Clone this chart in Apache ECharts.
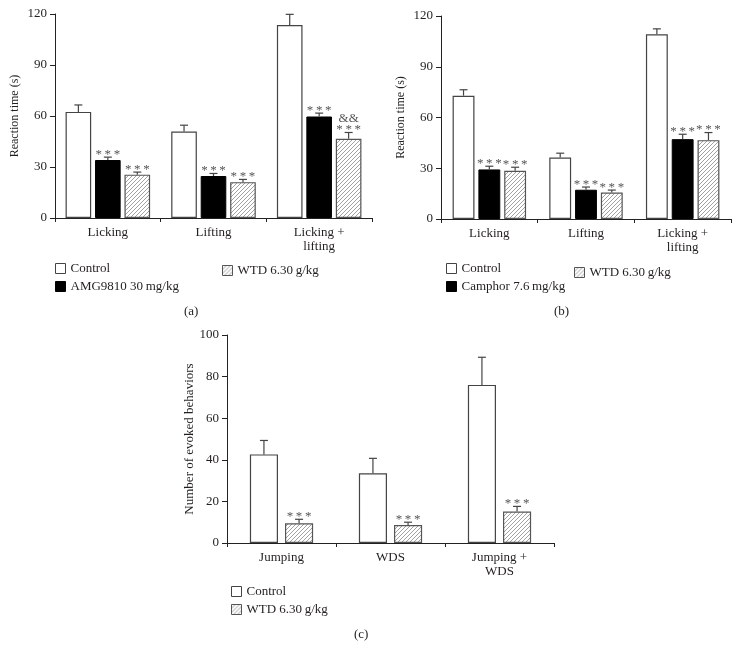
<!DOCTYPE html>
<html>
<head>
<meta charset="utf-8">
<script src="https://cdn.jsdelivr.net/npm/echarts@6/dist/echarts.min.js"></script>
<style>html,body{margin:0;padding:0;background:#fff}#c{width:738px;height:648px}</style>
</head>
<body>
<div id="c"></div>
<script>
// ---- data ----
const catsAB = ['Licking', 'Lifting', 'Licking +\nlifting'];
const catsC = ['Jumping', 'WDS', 'Jumping +\nWDS'];
const yTicksAB = [0, 30, 60, 90, 120];
const yTicksC = [0, 20, 40, 60, 80, 100];

// panel (a)
const ctrlA = [62.4, 50.9, 113.5];
const ctrlAErr = [4.1, 3.7, 6.3];
const amgA = [34.1, 24.7, 59.7];
const amgAErr = [1.7, 1.5, 2.0];
const wtdA = [25.5, 21.1, 46.6];
const wtdAErr = [1.5, 1.6, 3.7];
const sigAmgA = ['***', '***', '***'];
const sigWtdA = ['***', '***', '&&\n***'];

// panel (b)
const ctrlB = [72.9, 36.3, 109.2];
const ctrlBErr = [3.5, 2.6, 3.2];
const camB = [29.3, 17.3, 47.2];
const camBErr = [1.9, 1.6, 2.9];
const wtdB = [28.5, 15.7, 46.6];
const wtdBErr = [2.1, 1.4, 4.5];
const sigCamB = ['***', '***', '***'];
const sigWtdB = ['***', '***', '***'];

// panel (c)
const ctrlC = [42.6, 33.5, 76.0];
const ctrlCErr = [6.7, 7.2, 13.3];
const wtdC = [9.5, 8.6, 15.1];
const wtdCErr = [1.9, 1.4, 2.5];
const sigWtdC = ['***', '***', '***'];

const nameCtrl = 'Control';
const nameAmg = 'AMG9810 30\u2009mg/kg';
const nameCam = 'Camphor 7.6\u2009mg/kg';
const nameWtd = 'WTD 6.30\u2009g/kg';

// ---- styles ----
const FONT = 'Liberation Serif';
const TXT = '#231f20';

function hatchPattern() {
  const s = 4;
  const c = document.createElement('canvas');
  c.width = s; c.height = s;
  const ctx = c.getContext('2d');
  ctx.fillStyle = '#fff';
  ctx.fillRect(0, 0, s, s);
  ctx.strokeStyle = '#8a8a8a';
  ctx.lineWidth = 0.8;
  ctx.beginPath();
  ctx.moveTo(-1, s + 1); ctx.lineTo(s + 1, -1);
  ctx.moveTo(-1, 1); ctx.lineTo(1, -1);
  ctx.moveTo(s - 1, s + 1); ctx.lineTo(s + 1, s - 1);
  ctx.stroke();
  return c;
}
const hatch = {image: hatchPattern(), repeat: 'repeat'};

const styleCtrl = {color: '#fff', borderColor: '#444', borderWidth: 1.2};
const styleBlack = {color: '#000', borderColor: '#000', borderWidth: 1};
const styleWtd = {color: hatch, borderColor: '#555', borderWidth: 1.2};

function toErrData(means, errs) {
  return means.map((m, i) => [i, m, m + errs[i]]);
}

function spaced(t) {
  return t.split('\n').map(line => line === '***' ? '*\u2009*\u2009*' : line).join('\n');
}

function errSeries(axisIdx, means, errs, n, idx, cg, g, sig) {
  return {
    type: 'custom',
    xAxisIndex: axisIdx, yAxisIndex: axisIdx,
    encode: {x: 0, y: [1, 2]},
    data: toErrData(means, errs),
    silent: true,
    z: 3,
    renderItem: function (params, api) {
      const cat = api.value(0), mean = api.value(1), top = api.value(2);
      const band = api.size([1, 0])[0];
      const groupW = band * (1 - cg);
      const barW = groupW / (n + (n - 1) * g);
      const off = -groupW / 2 + idx * barW * (1 + g) + barW / 2;
      const p0 = api.coord([cat, mean]);
      const p1 = api.coord([cat, top]);
      const x = p0[0] + off;
      const ls = {stroke: '#444', lineWidth: 1.2};
      const children = [
        {type: 'line', shape: {x1: x, y1: p0[1], x2: x, y2: p1[1]}, style: ls},
        {type: 'line', shape: {x1: x - 4, y1: p1[1], x2: x + 4, y2: p1[1]}, style: ls}
      ];
      const t = sig ? sig[params.dataIndex] : null;
      if (t) {
        children.push({
          type: 'text',
          style: {
            text: spaced(t), x: x, y: p1[1] + 3,
            align: 'center', verticalAlign: 'bottom',
            fontFamily: FONT, fontSize: 13, lineHeight: 11,
            fill: '#555'
          }
        });
      }
      return {type: 'group', children: children};
    }
  };
}

function barSeries(axisIdx, name, data, style, cg, g) {
  return {
    type: 'bar', name: name, xAxisIndex: axisIdx, yAxisIndex: axisIdx,
    data: data, itemStyle: style,
    barCategoryGap: (cg * 100) + '%', barGap: (g * 100) + '%',
    silent: true, z: 2
  };
}

function xAxisDef(idx, cats) {
  return {
    type: 'category', gridIndex: idx, data: cats, boundaryGap: true,
    axisLine: {lineStyle: {color: '#222', width: 1}},
    axisTick: {show: true, length: 4, alignWithLabel: false, interval: 0, lineStyle: {color: '#222'}},
    axisLabel: {interval: 0, margin: 8, fontFamily: FONT, fontSize: 13, lineHeight: 14, color: TXT}
  };
}
function yAxisDef(idx, ticks, name, nameGap, nameSize) {
  return {
    type: 'value', gridIndex: idx,
    min: ticks[0], max: ticks[ticks.length - 1], interval: ticks[1] - ticks[0],
    name: name, nameLocation: 'middle', nameGap: nameGap,
    nameTextStyle: {fontFamily: FONT, fontSize: nameSize, color: TXT},
    axisLine: {show: true, lineStyle: {color: '#222', width: 1}},
    axisTick: {show: true, length: 5, lineStyle: {color: '#222'}},
    axisLabel: {margin: 8, fontFamily: FONT, fontSize: 13, color: TXT},
    splitLine: {show: false}
  };
}

const legendText = {fontFamily: FONT, fontSize: 13, color: TXT};
function legendDef(left, top, names) {
  return {
    left: left, top: top, orient: 'vertical', data: names,
    icon: 'rect', itemWidth: 10, itemHeight: 10, itemGap: 5,
    itemStyle: {borderWidth: 1},
    textStyle: legendText, selectedMode: false, padding: 0
  };
}

const cgA = 0.20, gA = 0.15;
const cgB = 0.24, gB = 0.18;
const cgC = 0.42, gC = 0.25;

const option = {
  animation: false,
  backgroundColor: '#fff',
  title: [
    {text: '(a)', left: 184, top: 305, padding: 0, textStyle: {fontFamily: FONT, fontSize: 13, fontWeight: 'normal', color: TXT}},
    {text: '(b)', left: 554, top: 305, padding: 0, textStyle: {fontFamily: FONT, fontSize: 13, fontWeight: 'normal', color: TXT}},
    {text: '(c)', left: 354, top: 628, padding: 0, textStyle: {fontFamily: FONT, fontSize: 13, fontWeight: 'normal', color: TXT}}
  ],
  legend: [
    legendDef(55, 262, [nameCtrl, nameAmg]),
    legendDef(222, 264, [nameWtd]),
    legendDef(446, 262, [nameCtrl, nameCam]),
    legendDef(574, 266, [nameWtd]),
    legendDef(231, 585, [nameCtrl, nameWtd])
  ],
  grid: [
    {left: 55, top: 14, width: 317, height: 204},
    {left: 441, top: 16, width: 290, height: 203},
    {left: 227, top: 335, width: 327, height: 208}
  ],
  xAxis: [xAxisDef(0, catsAB), xAxisDef(1, catsAB), xAxisDef(2, catsC)],
  yAxis: [
    yAxisDef(0, yTicksAB, 'Reaction time (s)', 34, 12),
    yAxisDef(1, yTicksAB, 'Reaction time (s)', 34, 12),
    yAxisDef(2, yTicksC, 'Number of evoked behaviors', 30, 13)
  ],
  series: [
    barSeries(0, nameCtrl, ctrlA, styleCtrl, cgA, gA),
    barSeries(0, nameAmg, amgA, styleBlack, cgA, gA),
    barSeries(0, nameWtd, wtdA, styleWtd, cgA, gA),
    errSeries(0, ctrlA, ctrlAErr, 3, 0, cgA, gA, null),
    errSeries(0, amgA, amgAErr, 3, 1, cgA, gA, sigAmgA),
    errSeries(0, wtdA, wtdAErr, 3, 2, cgA, gA, sigWtdA),

    barSeries(1, nameCtrl, ctrlB, styleCtrl, cgB, gB),
    barSeries(1, nameCam, camB, styleBlack, cgB, gB),
    barSeries(1, nameWtd, wtdB, styleWtd, cgB, gB),
    errSeries(1, ctrlB, ctrlBErr, 3, 0, cgB, gB, null),
    errSeries(1, camB, camBErr, 3, 1, cgB, gB, sigCamB),
    errSeries(1, wtdB, wtdBErr, 3, 2, cgB, gB, sigWtdB),

    barSeries(2, nameCtrl, ctrlC, styleCtrl, cgC, gC),
    barSeries(2, nameWtd, wtdC, styleWtd, cgC, gC),
    errSeries(2, ctrlC, ctrlCErr, 2, 0, cgC, gC, null),
    errSeries(2, wtdC, wtdCErr, 2, 1, cgC, gC, sigWtdC)
  ]
};

const chart = echarts.init(document.getElementById('c'), null, {renderer: 'canvas'});
chart.setOption(option);
</script>
</body>
</html>
